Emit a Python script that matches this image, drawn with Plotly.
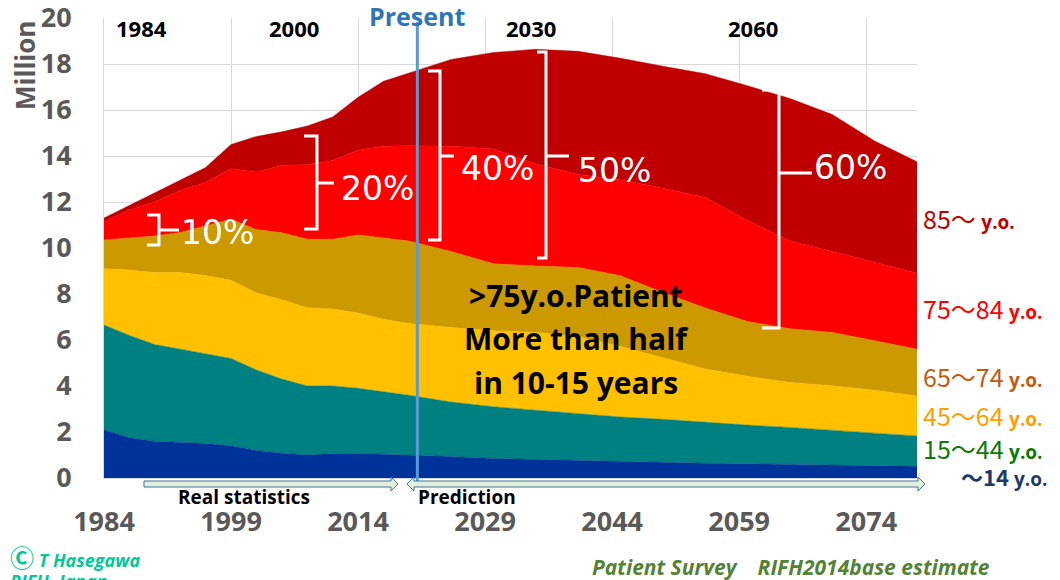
import plotly.graph_objects as go

# ---- data (million patients) ----
years = [1984, 1987, 1990, 1993, 1996, 1999, 2002, 2005, 2008, 2011, 2014, 2017, 2020,
         2025, 2030, 2035, 2040, 2045, 2050, 2055, 2060, 2065, 2070, 2075, 2080]

age_0_14 = [2.1, 1.75, 1.6, 1.55, 1.5, 1.4, 1.2, 1.08, 1.0, 1.06, 1.07, 1.03, 1.0,
            0.93, 0.85, 0.8, 0.76, 0.72, 0.68, 0.64, 0.61, 0.58, 0.56, 0.53, 0.51]
age_15_44 = [4.55, 4.45, 4.2, 4.05, 3.9, 3.8, 3.5, 3.22, 3.0, 2.94, 2.83, 2.72, 2.6,
             2.37, 2.25, 2.15, 2.04, 1.93, 1.87, 1.78, 1.69, 1.62, 1.53, 1.42, 1.32]
age_45_64 = [2.45, 2.84, 3.13, 3.33, 3.4, 3.4, 3.35, 3.45, 3.4, 3.35, 3.27, 3.15, 3.12,
             3.24, 3.3, 3.38, 3.35, 3.07, 2.68, 2.32, 2.12, 1.95, 1.92, 1.86, 1.74]
age_65_74 = [1.25, 1.41, 1.59, 1.74, 2.15, 2.65, 2.75, 2.91, 2.98, 3.03, 3.4, 3.55, 3.58,
             3.31, 2.91, 2.89, 3.0, 3.07, 2.83, 2.65, 2.38, 2.34, 2.32, 2.16, 2.03]
age_75_84 = [0.8, 1.2, 1.48, 1.83, 1.9, 2.2, 2.5, 2.94, 3.24, 3.42, 3.68, 3.97, 4.15,
             4.57, 4.99, 4.43, 4.05, 4.18, 4.54, 4.81, 4.4, 3.81, 3.52, 3.41, 3.3]
age_85_over = [0.15, 0.2, 0.4, 0.45, 0.65, 1.05, 1.55, 1.45, 1.68, 1.9, 2.3, 2.83, 3.15,
               3.78, 4.2, 4.99, 5.35, 5.28, 5.3, 5.38, 5.85, 6.2, 5.95, 5.27, 4.85]

groups = ["~14", "15-44", "45-64", "65-74", "75-84", "85+"]
fill_colors = ["#003399", "#008080", "#FFC000", "#CC9900", "#FF0000", "#C00000"]

tick_years = [1984, 1999, 2014, 2029, 2044, 2059, 2074]
present_year = 2021

# right-hand labels: (digits, colour, pixel y)
side_labels = [
    ("85～ ", "#C00000", 218),
    ("75～84 ", "#FF0000", 308),
    ("65～74 ", "#C55A11", 376),
    ("45～64 ", "#FFA000", 415),
    ("15～44 ", "#0B7A0B", 448),
]

# ---- pixel helpers, in page pixels (plot area is x 104..917, y 18..478) ----
# the page body adds an 8px margin, so the figure itself is shifted by that much
OFF = 8
PL, PR, PT, PB = 104, 917, 18, 478


def px(x):
    return (x - PL) / (PR - PL)


def py(y):
    return (PB - y) / (PB - PT)


fig = go.Figure()

series = [age_0_14, age_15_44, age_45_64, age_65_74, age_75_84, age_85_over]
for name, vals, color in zip(groups, series, fill_colors):
    fig.add_trace(go.Scatter(
        x=years, y=vals, stackgroup='one', mode='lines',
        line=dict(width=0.5, color=color), fillcolor=color,
        name=name, showlegend=False,
        hovertemplate=name + ' %{x}: %{y:.2f}M<extra></extra>'
    ))

shapes = []

# white brackets: hook x, bar x, tick x, top y, bottom y, mid y (pixels)
brackets = [
    (147, 159, 179, 215, 245, 230),
    (304, 317, 334, 136, 229, 183),
    (428, 440, 454, 71, 240, 156),
    (537, 546, 569, 52, 258, 156),
    (762, 779, 812, 90, 328, 173),
]
for hx, bx, tx, yt, yb, ym in brackets:
    path = (f"M {px(hx)},{py(yt)} L {px(bx)},{py(yt)} L {px(bx)},{py(yb)} L {px(hx)},{py(yb)} "
            f"M {px(bx)},{py(ym)} L {px(tx)},{py(ym)}")
    shapes.append(dict(type='path', xref='paper', yref='paper', path=path,
                       line=dict(color='white', width=3), layer='above'))

# present line
shapes.append(dict(type='line', xref='x', yref='paper', x0=present_year, x1=present_year,
                   y0=py(487), y1=py(22), line=dict(color='#5B9BD5', width=3), layer='above'))


def arrow_path(pts):
    return "M " + " L ".join(f"{px(x)},{py(y)}" for x, y in pts) + " Z"


real_arrow = [(144, 481), (391, 481), (391, 477), (398, 484), (391, 491), (391, 487), (144, 487)]
pred_arrow = [(407, 484), (414, 477), (414, 481), (918, 481), (918, 477), (925, 484),
              (918, 491), (918, 487), (414, 487), (414, 491)]
for pts in (real_arrow, pred_arrow):
    shapes.append(dict(type='path', xref='paper', yref='paper', path=arrow_path(pts),
                       fillcolor='#E2F0D9', line=dict(color='#41719C', width=1), layer='above'))

ann = []


def text(x, y, t, size, color='black', family='Open Sans', weight='bold', xanchor='center',
         yanchor='middle', angle=0, style='normal'):
    ann.append(dict(x=px(x), y=py(y), xref='paper', yref='paper', text=t, showarrow=False,
                    xanchor=xanchor, yanchor=yanchor, textangle=angle,
                    font=dict(family=family, size=size, color=color, weight=weight, style=style)))


# top year markers
for lbl, x in [("1984", 141), ("2000", 294), ("2030", 531), ("2060", 753)]:
    text(x, 28, lbl, 22)
text(417, 16, "Present", 25, color='#2E75B6')

# percentages
for lbl, x, y in [("10%", 217, 232), ("20%", 377, 189), ("40%", 497, 168),
                  ("50%", 614, 170), ("60%", 850, 167)]:
    text(x, y, lbl, 33, color='white', family='DejaVu Sans', weight='normal')

# central message
for line, y in [(">75y.o.Patient", 295), ("More than half", 338), ("in 10-15 years", 382)]:
    text(576, y, line, 30)

# right-hand age labels
for digits, color, y in side_labels:
    text(921, y, f"{digits}<b><span style='font-family:Open Sans;font-size:19px'>y.o.</span></b>",
         25, color=color, family='Noto Sans CJK JP', weight='normal', xanchor='left')
text(1049, 476, "～14 <span style='font-family:Open Sans;font-size:19px'>y.o.</span>", 22,
     color='#1F3864', family='Noto Sans CJK JP', weight='bold', xanchor='right')

# arrows captions
text(244, 497, "Real statistics", 19)
text(467, 497, "Prediction", 19)

# axis title
text(25, 66, "Million", 26, color='#595959', angle=-90)

# credits
text(8, 556, "<span style='font-family:Noto Sans CJK JP;font-size:24px'>Ⓒ</span> <i>T Hasegawa</i>",
     18, color='#00C896', xanchor='left')
text(8, 567, "<i>RIFH ,Japan</i>", 18, color='#00C896', xanchor='left', yanchor='top')
text(791, 567, "Patient Survey　RIFH2014base estimate", 21, color='#548235', style='italic')

fig.update_layout(
    width=1060, height=580,
    margin=dict(l=PL - OFF, r=1060 - PR + OFF, t=PT - OFF, b=580 - PB + OFF),
    paper_bgcolor='white', plot_bgcolor='white',
    shapes=shapes, annotations=ann,
    hovermode='closest'
)

fig.update_xaxes(
    range=[1984, 2080], tickvals=tick_years, ticks='', automargin=False,
    showgrid=True, gridcolor='#d9d9d9', gridwidth=1,
    showline=True, linecolor='#d9d9d9', zeroline=False,
    tickfont=dict(family='Open Sans', size=27, color='#595959', weight='bold'),
    ticklabelstandoff=20, ticklabeloverflow='allow'
)
fig.update_yaxes(
    range=[0, 20], dtick=2, ticks='', automargin=False,
    showgrid=True, gridcolor='#d9d9d9', gridwidth=1,
    showline=True, linecolor='#d9d9d9', zeroline=False,
    tickfont=dict(family='Open Sans', size=27, color='#595959', weight='bold'),
    ticklabelstandoff=26, ticklabeloverflow='allow'
)

fig.write_html("out.html")
